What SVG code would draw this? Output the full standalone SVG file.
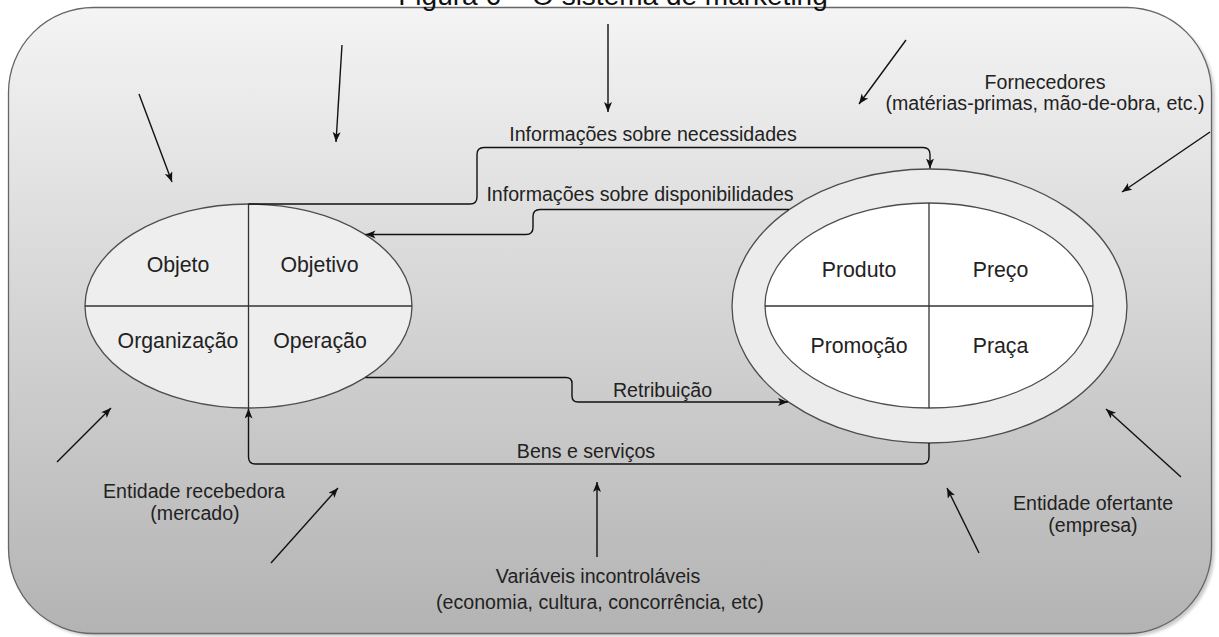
<svg xmlns="http://www.w3.org/2000/svg" width="1219" height="637" viewBox="0 0 1219 637">
  <defs>
    <linearGradient id="envFill" x1="0" y1="0" x2="0" y2="1">
      <stop offset="0" stop-color="#f4f4f4"/>
      <stop offset="1" stop-color="#b3b3b3"/>
    </linearGradient>
    <filter id="softShadow" x="-5%" y="-5%" width="110%" height="110%">
      <feGaussianBlur stdDeviation="1.5"/>
    </filter>
    <marker id="arrow" markerUnits="userSpaceOnUse" markerWidth="12" markerHeight="10" refX="10" refY="4" orient="auto" viewBox="0 0 12 10">
      <path d="M0,0 L10,4 L0,8 L2.5,4 Z" fill="#111"/>
    </marker>
  </defs>
  <style>
    .env { fill: url(#envFill); stroke: #666; stroke-width: 1.3; }
    .shadow { fill: #888; opacity: 0.45; filter: url(#softShadow); }
    .cell { stroke: #4d4d4d; stroke-width: 1.3; }
    .div { stroke: #333; stroke-width: 1.3; fill: none; }
    .conn { fill: none; stroke: #111; stroke-width: 1.4; marker-end: url(#arrow); }
    .plain { fill: none; stroke: #111; stroke-width: 1.4; }
    text { font-family: "Liberation Sans", Arial, sans-serif; fill: #222; text-anchor: middle; }
    .lbl { font-size: 19.6px; }
    .mix { font-size: 21.3px; }
    .title { font-size: 28px; fill: #111; }
  </style>

  <!-- environment frame -->
  <g id="environment">
    <rect class="shadow" x="11.5" y="10.5" width="1203" height="626" rx="85" ry="85"/>
    <rect class="env" x="8.5" y="7.5" width="1203" height="626" rx="85" ry="85"/>
  </g>

  <text class="title" x="613" y="5">Figura 6 – O sistema de marketing</text>

  <!-- receiving entity: the four O's -->
  <g id="node-market">
    <ellipse class="cell" cx="248.5" cy="306" rx="163.5" ry="102" fill="#eeeeee"/>
    <line class="div" x1="85" y1="306" x2="412" y2="306"/>
    <line class="div" x1="248.5" y1="204" x2="248.5" y2="408"/>
    <text class="mix" x="178" y="272">Objeto</text>
    <text class="mix" x="319.5" y="272">Objetivo</text>
    <text class="mix" x="178" y="348">Organização</text>
    <text class="mix" x="320" y="348">Operação</text>
  </g>

  <!-- offering entity: the four P's -->
  <g id="node-company">
    <ellipse class="cell" cx="929.5" cy="306" rx="197.5" ry="137" fill="#ececec"/>
    <ellipse class="cell" cx="929" cy="305.5" rx="164" ry="102.5" fill="#ffffff"/>
    <line class="div" x1="765" y1="306" x2="1093" y2="306"/>
    <line class="div" x1="929" y1="203" x2="929" y2="408"/>
    <text class="mix" x="859" y="277">Produto</text>
    <text class="mix" x="1000.5" y="277">Preço</text>
    <text class="mix" x="859" y="353">Promoção</text>
    <text class="mix" x="1000.5" y="353">Praça</text>
  </g>

  <!-- exchange flows between the two entities -->
  <g id="connectors">
    <path class="conn" d="M248.5,204 H470 Q477,204 477,197 V154.5 Q477,147.5 484,147.5 H923 Q930,147.5 930,154.5 V168.5"/>
    <path class="conn" d="M789,209.5 H540 Q533,209.5 533,216.5 V227.5 Q533,234.5 526,234.5 H365.5"/>
    <path class="conn" d="M365.5,377.5 H566 Q572,377.5 572,383.5 V396 Q572,402 578,402 H788"/>
    <path class="conn" d="M929,443 V457 Q929,464 922,464 H255.5 Q248.5,464 248.5,457 V408.5"/>
    <text class="lbl" x="653" y="141">Informações sobre necessidades</text>
    <text class="lbl" x="640" y="201">Informações sobre disponibilidades</text>
    <text class="lbl" x="662.5" y="397">Retribuição</text>
    <text class="lbl" x="586" y="458">Bens e serviços</text>
  </g>

  <!-- outside forces acting on the system -->
  <g id="influences">
    <line class="conn" x1="139" y1="94" x2="172" y2="182"/>
    <line class="conn" x1="342" y1="45" x2="336" y2="142"/>
    <line class="conn" x1="608" y1="24" x2="608" y2="112"/>
    <line class="conn" x1="906" y1="40" x2="859" y2="104"/>
    <line class="conn" x1="1210" y1="132" x2="1122" y2="192"/>
    <line class="conn" x1="57" y1="462" x2="111" y2="408"/>
    <line class="conn" x1="271" y1="563" x2="338" y2="488"/>
    <line class="conn" x1="597" y1="557" x2="597" y2="482"/>
    <line class="conn" x1="979" y1="553" x2="947" y2="488"/>
    <line class="conn" x1="1181" y1="477" x2="1106" y2="409"/>
  </g>

  <g id="labels">
    <text class="lbl" x="1045" y="89">Fornecedores</text>
    <text class="lbl" x="1045" y="110">(matérias-primas, mão-de-obra, etc.)</text>
    <text class="lbl" x="194" y="498">Entidade recebedora</text>
    <text class="lbl" x="195" y="520">(mercado)</text>
    <text class="lbl" x="1093" y="510">Entidade ofertante</text>
    <text class="lbl" x="1093" y="532">(empresa)</text>
    <text class="lbl" x="598" y="583">Variáveis incontroláveis</text>
    <text class="lbl" x="600" y="609">(economia, cultura, concorrência, etc)</text>
  </g>
</svg>
